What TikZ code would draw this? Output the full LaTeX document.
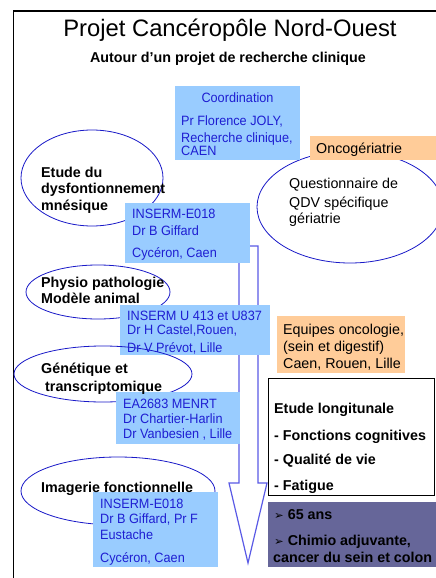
\documentclass[tikz,border=0pt]{standalone}
\usepackage{fontspec}
\setmainfont{Liberation Sans}
\newfontfamily\dvfont{DejaVu Sans}
\newfontfamily\blufont[FakeStretch=0.94]{Liberation Sans}
\usetikzlibrary{shapes.geometric}
\definecolor{lb}{RGB}{153,204,255}
\definecolor{orb}{RGB}{255,204,153}
\definecolor{pub}{RGB}{102,102,153}
\definecolor{btx}{RGB}{30,30,210}
\definecolor{eln}{RGB}{25,25,200}
\definecolor{arl}{RGB}{90,90,230}
\newcommand\bul{{\dvfont\fontsize{11.5}{12}\selectfont ➢}}
\begin{document}
\begin{tikzpicture}[x=1pt,y=-1pt,
  box/.style={rectangle,inner sep=0pt,outer sep=0pt,anchor=north west},
  ell/.style={ellipse,draw=eln,line width=0.8pt,inner sep=0pt},
  txt/.style={inner sep=0pt,anchor=base west,font=\fontsize{14.3}{17}\selectfont},
  btxt/.style={txt,text=btx,font=\blufont\fontsize{13.5}{15}\selectfont},
  bold/.style={txt,font=\fontsize{14.3}{17}\selectfont\bfseries}]
\useasboundingbox (0,0) rectangle (436,578);
\fill[white] (0,0) rectangle (436,578);
% frame
\draw[line width=1.2pt] (13.5,580) -- (13.5,11) -- (440,11);
% title
\node[inner sep=0pt,anchor=base,font=\fontsize{23.8}{28}\selectfont] (title) at (230,37) {Projet Cancéropôle Nord-Ouest};
\node[inner sep=0pt,anchor=base,font=\fontsize{14.3}{17}\selectfont\bfseries] (sub) at (228,63) {Autour d’un projet de recherche clinique};
% ellipses (back)
\node[ell,minimum width=142pt,minimum height=96pt] (e1) at (92,178) {};
\node[ell,minimum width=144pt,minimum height=54pt] (e2) at (98,292) {};
\node[ell,minimum width=186pt,minimum height=112pt] (eq) at (350,207) {};
% arrow
\draw[draw=arl,line width=1.2pt,fill=white,line join=miter]
  (239,246) -- (258,246) -- (258,483) -- (267,483) -- (248,563) -- (229,483) -- (239,483) -- cycle;
% boxes
\node[box,fill=lb,minimum width=125pt,minimum height=74pt] (coord) at (175,86) {};
\node[box,fill=orb,minimum width=130pt,minimum height=24pt] (onco) at (310,136) {};
\node[box,fill=lb,minimum width=125pt,minimum height=60pt] (b1) at (125,203) {};
\node[box,fill=lb,minimum width=150pt,minimum height=50pt] (b2) at (120,305) {};
\node[ell,minimum width=178pt,minimum height=56pt] (e3) at (103,374) {};
\node[box,fill=orb,minimum width=128pt,minimum height=57pt] (equip) at (277,316) {};
\node[box,fill=lb,minimum width=124pt,minimum height=52pt] (b3) at (116,392) {};
\node[box,draw=black,line width=1pt,fill=white,minimum width=166pt,minimum height=117pt] (etude) at (268,378) {};
\node[ell,minimum width=194pt,minimum height=68pt] (e4) at (118,491) {};
\node[box,fill=lb,minimum width=125pt,minimum height=75pt] (b4) at (93,492) {};
\node[box,fill=pub,minimum width=172pt,minimum height=65pt] (pur) at (268,502) {};
% coordination texts
\node[btxt,anchor=base] (c0) at (237.5,102) {Coordination};
\node[btxt] (c1) at (181,125) {Pr Florence JOLY,};
\node[btxt] (c2) at (181,142) {Recherche clinique,};
\node[btxt] (c3) at (181,155) {CAEN};
\node[txt] (o1) at (316,153) {Oncogériatrie};
% ellipse texts
\node[bold] (t11) at (41,177) {Etude du};
\node[bold] (t12) at (41,193) {dysfontionnement};
\node[bold] (t13) at (41,210) {mnésique};
\node[txt] (q1) at (289,188) {Questionnaire de};
\node[txt] (q2) at (289,207) {QDV spécifique};
\node[txt] (q3) at (289,223) {gériatrie};
\node[bold] (t21) at (41,287) {Physio pathologie};
\node[bold] (t22) at (41,303) {Modèle animal};
\node[bold] (t31) at (41,373) {Génétique et};
\node[bold] (t32) at (45,391) {transcriptomique};
\node[bold] (t41) at (41,492) {Imagerie fonctionnelle};
% blue box texts
\node[btxt] (a1) at (132,218) {INSERM-E018};
\node[btxt] (a2) at (132,235) {Dr B Giffard};
\node[btxt] (a3) at (132,257) {Cycéron, Caen};
\node[btxt] (u1) at (127,320) {INSERM U 413 et U837};
\node[btxt] (u2) at (127,334) {Dr H Castel,Rouen,};
\node[btxt] (u3) at (127,352) {Dr V Prévot, Lille};
\node[btxt] (m1) at (123,408) {EA2683 MENRT};
\node[btxt] (m2) at (123,423) {Dr Chartier-Harlin};
\node[btxt] (m3) at (123,438) {Dr Vanbesien , Lille};
\node[btxt] (i1) at (100,508) {INSERM-E018};
\node[btxt] (i2) at (100,523) {Dr B Giffard, Pr F};
\node[btxt] (i3) at (100,539) {Eustache};
\node[btxt] (i4) at (100,562) {Cycéron, Caen};
% equipes
\node[txt] (q4) at (283,334) {Equipes oncologie,};
\node[txt] (q5) at (283,351) {(sein et digestif)};
\node[txt] (q6) at (283,368) {Caen, Rouen, Lille};
% etude longitudinale
\node[bold] (l1) at (274,413) {Etude longitunale};
\node[bold] (l2) at (274,440) {- Fonctions cognitives};
\node[bold] (l3) at (274,464) {- Qualité de vie};
\node[bold] (l4) at (274,490) {- Fatigue};
% purple
\node[bold] (p1) at (274,519) {\bul\ 65 ans};
\node[bold] (p2) at (274,545) {\bul\ Chimio adjuvante,};
\node[bold] (p3) at (273,562) {cancer du sein et colon};
\end{tikzpicture}
\end{document}
